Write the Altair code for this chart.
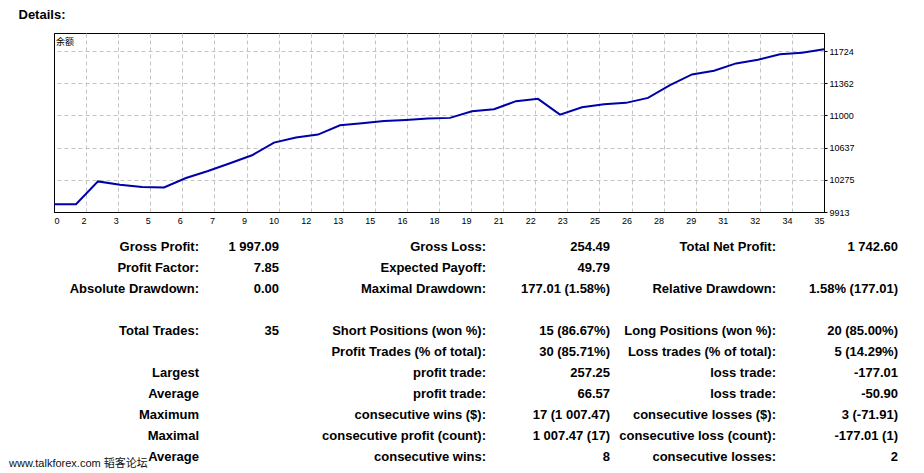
import altair as alt
import pandas as pd

# ---- balance curve data ----
trades = list(range(36))
balance = [10000, 10000, 10257, 10220, 10193, 10190, 10295, 10374, 10461, 10551,
           10694, 10751, 10784, 10889, 10912, 10938, 10949, 10965, 10972, 11047,
           11070, 11160, 11186, 11009, 11092, 11126, 11141, 11197, 11340, 11461,
           11502, 11585, 11626, 11687, 11705, 11743]
x_tick_labels = ["0", "2", "3", "5", "6", "7", "9", "10", "12", "13", "15", "16", "18",
                 "19", "21", "22", "23", "25", "26", "28", "29", "31", "32", "34", "35"]
y_tick_values = [9913, 10275, 10637, 11000, 11362, 11724]
y_domain = [9913, 11927]

# ---- report table ----
col0_text = ["Gross Profit:", "Profit Factor:", "Absolute Drawdown:", "", "Total Trades:", "",
             "Largest", "Average", "Maximum", "Maximal", "Average"]
col1_text = ["1 997.09", "7.85", "0.00", "", "35", "", "", "", "", "", ""]
col2_text = ["Gross Loss:", "Expected Payoff:", "Maximal Drawdown:", "", "Short Positions (won %):",
             "Profit Trades (% of total):", "profit trade:", "profit trade:", "consecutive wins ($):",
             "consecutive profit (count):", "consecutive wins:"]
col3_text = ["254.49", "49.79", "177.01 (1.58%)", "", "15 (86.67%)", "30 (85.71%)", "257.25",
             "66.57", "17 (1 007.47)", "1 007.47 (17)", "8"]
col4_text = ["Total Net Profit:", "", "Relative Drawdown:", "", "Long Positions (won %):",
             "Loss trades (% of total):", "loss trade:", "loss trade:", "consecutive losses ($):",
             "consecutive loss (count):", "consecutive losses:"]
col5_text = ["1 742.60", "", "1.58% (177.01)", "", "20 (85.00%)", "5 (14.29%)", "-177.01",
             "-50.90", "3 (-71.91)", "-177.01 (1)", "2"]
watermark_text = ["www.talkforex.com 韬客论坛"]

# layout anchors of the table columns (right edges, relative to plot left)
col_index = [-1, 0, 1, 2, 3, 4, 5]
col_anchor = [-45, 145, 225, 432, 556, 722, 844]

bal_df = pd.DataFrame({"trade": trades, "balance": balance})

rows = []
for c, col in enumerate([col0_text, col1_text, col2_text, col3_text, col4_text, col5_text]):
    for r, t in enumerate(col):
        if t:
            rows.append({"col": c, "row": r, "text": t})
tbl_df = pd.DataFrame(rows)
wm_df = pd.DataFrame({"col": [-1], "row": [10.3], "text": watermark_text})

x_vals = [k * 35 / 24 for k in range(25)]
label_expr = "[" + ",".join("'%s'" % s for s in x_tick_labels) + "][round(datum.value*24/35)]"

base_kw = dict(grid=True, gridWidth=1, domain=False,
               labelFont="Liberation Sans", labelFontSize=9, labelColor="black", title=None,
               labelOverlap=False)

x_edge = "datum.value < 0.01 || datum.value > 34.99"
y_edge = "datum.value < 9914"

line = alt.Chart(bal_df).mark_line(color="#0000A8", strokeWidth=2).encode(
    x=alt.X("trade:Q", scale=alt.Scale(domain=[0, 35], nice=False, zero=False),
            axis=alt.Axis(values=x_vals, labelExpr=label_expr, ticks=False,
                          labelAlign={"condition": {"test": "datum.value < 0.01", "value": "left"},
                                      "value": "right"},
                          gridColor={"condition": {"test": x_edge, "value": "black"},
                                     "value": "#c4c4c4"},
                          gridDash={"condition": {"test": x_edge, "value": []},
                                    "value": [4, 3]},
                          labelPadding=4, **base_kw)),
    y=alt.Y("balance:Q", scale=alt.Scale(domain=y_domain, nice=False, zero=False),
            axis=alt.Axis(orient="right", values=y_tick_values, format="d", tickSize=3,
                          tickColor="black", labelPadding=2, labelBaseline="middle",
                          gridColor={"condition": {"test": y_edge, "value": "black"},
                                     "value": "#c4c4c4"},
                          gridDash={"condition": {"test": y_edge, "value": []},
                                    "value": [4, 3]},
                          **base_kw)),
).properties(
    width=770, height=179,
    view=alt.ViewBackground(stroke="black", strokeWidth=1),
    title=alt.TitleParams("余额", anchor="start", fontSize=9, font="Noto Sans CJK SC",
                          fontWeight="normal", color="black", offset=-14, dx=6),
)

text_base = alt.Chart(tbl_df).mark_text(
    align="right", baseline="middle", font="Liberation Sans", fontSize=13,
    fontWeight="bold", color="black"
).encode(
    x=alt.X("col:Q", scale=alt.Scale(domain=col_index, range=col_anchor), axis=None),
    y=alt.Y("row:Q", scale=alt.Scale(domain=[-0.5, 10.5], nice=False, zero=False, reverse=True),
            axis=None),
    text="text:N",
)
wm = alt.Chart(wm_df).mark_text(
    align="left", baseline="middle", font="Liberation Sans, Noto Sans CJK SC", fontSize=11,
    color="#111111"
).encode(
    x=alt.X("col:Q", scale=alt.Scale(domain=col_index, range=col_anchor), axis=None),
    y=alt.Y("row:Q", scale=alt.Scale(domain=[-0.5, 10.5], nice=False, zero=False, reverse=True),
            axis=None),
    text="text:N",
)
table = alt.layer(text_base, wm).properties(
    width=850, height=232, view=alt.ViewBackground(stroke="transparent"))

chart = alt.vconcat(
    line, table, spacing=24, bounds="flush", padding=0,
    title=alt.TitleParams("Details:", anchor="start", dx=10, fontSize=13, font="Liberation Sans",
                          fontWeight="bold", color="black", offset=11),
).configure(background="white")

chart.save("out.html", embed_options={"renderer": "svg", "actions": False})
